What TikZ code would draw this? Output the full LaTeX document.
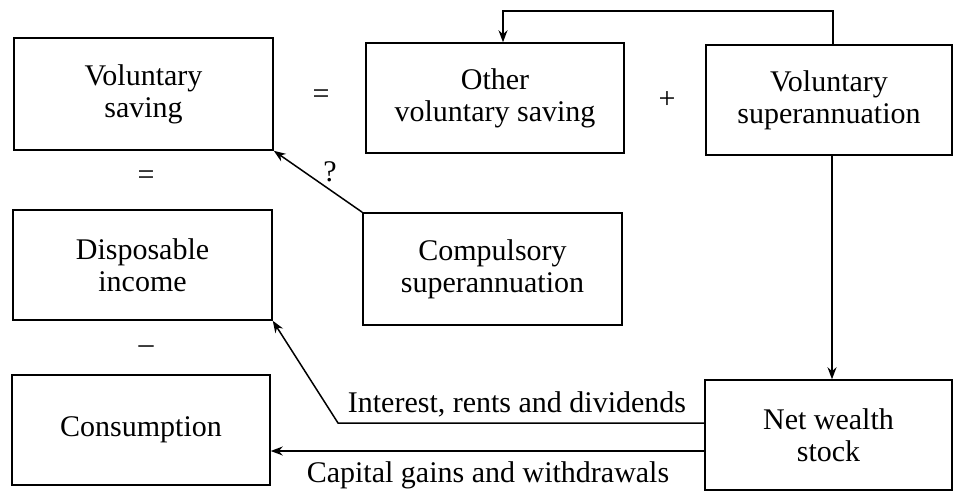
\documentclass[tikz,border=0pt]{standalone}
\usepackage{fontspec}
\setmainfont{Liberation Serif}
\usetikzlibrary{arrows.meta}
\begin{document}
\begin{tikzpicture}[x=1pt,y=-1pt,
  box/.style={draw,line width=1.5pt,align=center,inner sep=0pt,font=\fontsize{30}{32}\selectfont},
  lbl/.style={font=\fontsize{30}{32}\selectfont,inner sep=0pt},
  arr/.style={line width=1.5pt,-{Stealth[length=12pt,width=9pt]}}]
\useasboundingbox (0,0) rectangle (954,492);
\fill[white] (0,0) rectangle (954,492);
% boxes
\node[box,minimum width=259pt,minimum height=112pt] (vs) at (143.5,94) {Voluntary\\saving};
\node[box,minimum width=258pt,minimum height=110pt] (ovs) at (495,98) {Other\\voluntary saving};
\node[box,minimum width=246pt,minimum height=110pt] (vsup) at (829,100) {Voluntary\\superannuation};
\node[box,minimum width=259pt,minimum height=112pt] (comp) at (492.5,269) {Compulsory\\superannuation};
\node[box,minimum width=259pt,minimum height=110pt] (di) at (142.5,265) {Disposable\\income};
\node[box,minimum width=258pt,minimum height=110pt] (cons) at (141,430) {Consumption};
\node[box,minimum width=247pt,minimum height=110pt] (nws) at (828.5,435) {Net wealth\\stock};
% operators
\node[lbl] (eq1) at (321,97) {=};
\node[lbl] (plus) at (667,100) {+};
\node[lbl] (eq2) at (146,178) {=};
\node[lbl] (minus) at (146,350) {–};
\node[lbl] (q) at (330,172) {?};
% connectors
\draw[arr] ([xshift=4pt]vsup.north) -- ++(0,-33) -| ([xshift=8pt]ovs.north);
\draw[arr] ([xshift=3pt]vsup.south) -- ([xshift=3pt]vsup.south |- nws.north);
\draw[arr] (comp.north west) -- (vs.south east);
\coordinate (bend) at (338,423);
\draw[arr] ([yshift=12pt]nws.west) -- (bend) -- (di.south east);
\draw[arr] ([yshift=-16pt]nws.west) -- ([yshift=-16pt]nws.west -| cons.east);
% connector labels
\node[lbl,anchor=base] (l1) at (517,412) {Interest, rents and dividends};
\node[lbl,anchor=base] (l2) at (488,482) {Capital gains and withdrawals};
\end{tikzpicture}
\end{document}
